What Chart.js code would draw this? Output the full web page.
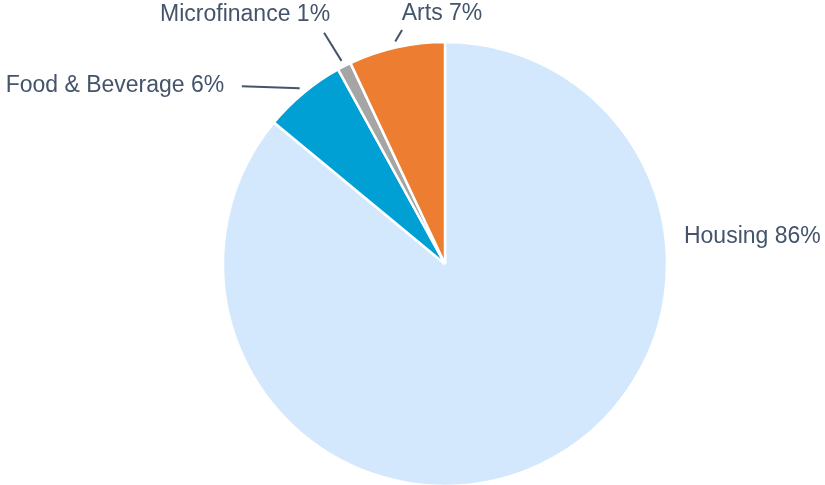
<!DOCTYPE html>
<html>
<head>
<meta charset="utf-8">
<script src="https://cdn.jsdelivr.net/npm/chart.js@4/dist/chart.umd.min.js"></script>
<style>
    html, body { margin: 0; padding: 0; background: #fff; }
    #wrap { width: 825px; height: 485px; }
</style>
</head>
<body>
<div id="wrap"><canvas id="pieChart" width="825" height="485"></canvas></div>
<script>
const categories = ["Housing", "Food & Beverage", "Microfinance", "Arts"];
const shares = [86, 6, 1, 7];
const sliceColors = ["#d3e8fd", "#009fd4", "#a5a5a5", "#ed7d31"];

// label placement, polar relative to the pie: angle in degrees clockwise from top,
// extra = distance beyond the outer radius
const labelLayout = [
    { text: [83.5, 18.5], align: "left", line: null },
    { text: [-51, 62], align: "right", line: [-48.8, 48] },
    { text: [-24.7, 53], align: "right", line: [-27.6, 39] },
    { text: [-9.8, 32], align: "left", line: [-10.4, 16] }
];

const textColor = "#44546a";

const outsideLabels = {
    id: "outsideLabels",
    afterDatasetsDraw(chart) {
        const ctx = chart.ctx;
        const arcs = chart.getDatasetMeta(0).data;
        ctx.save();
        ctx.font = "23px 'Liberation Sans', Arial, sans-serif";
        ctx.fillStyle = textColor;
        ctx.strokeStyle = textColor;
        ctx.lineWidth = 2;
        ctx.textBaseline = "middle";

        arcs.forEach((arc, i) => {
            const { x, y, outerRadius, startAngle, endAngle } = arc.getProps(["x", "y", "outerRadius", "startAngle", "endAngle"], true);
            const polar = (deg, extra) => {
                const rad = (deg - 90) * Math.PI / 180;
                return [x + Math.cos(rad) * (outerRadius + extra), y + Math.sin(rad) * (outerRadius + extra)];
            };
            const lay = labelLayout[i];

            if (lay.line) {
                const mid = (startAngle + endAngle) / 2;
                const sx = x + Math.cos(mid) * (outerRadius + 6);
                const sy = y + Math.sin(mid) * (outerRadius + 6);
                const [ex, ey] = polar(lay.line[0], lay.line[1]);
                ctx.beginPath();
                ctx.moveTo(sx, sy);
                ctx.lineTo(ex, ey);
                ctx.stroke();
            }

            const [tx, ty] = polar(lay.text[0], lay.text[1]);
            ctx.textAlign = lay.align;
            ctx.fillText(categories[i] + " " + shares[i] + "%", tx, ty);
        });
        ctx.restore();
    }
};

new Chart(document.getElementById("pieChart"), {
    type: "pie",
    data: {
        labels: categories,
        datasets: [{
            data: shares,
            backgroundColor: sliceColors,
            borderColor: "#ffffff",
            borderWidth: 2.5,
            radius: 222
        }]
    },
    options: {
        responsive: false,
        animation: false,
        layout: { padding: { left: 65, top: 43, right: 0, bottom: 0 } },
        plugins: {
            legend: { display: false },
            tooltip: { enabled: false }
        }
    },
    plugins: [outsideLabels]
});
</script>
</body>
</html>
